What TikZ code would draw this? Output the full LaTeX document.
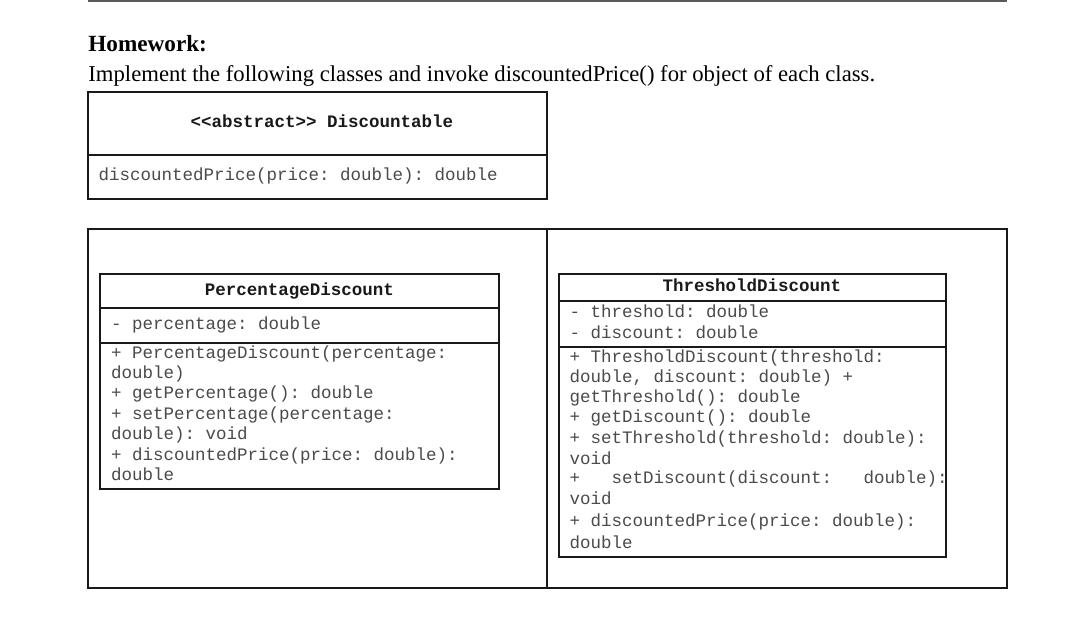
\documentclass[tikz,border=0pt]{standalone}
\usepackage{fontspec}
\setmainfont{Liberation Serif}
\setmonofont{Liberation Mono}
\definecolor{txt}{HTML}{4A4A4A}
\definecolor{rule}{HTML}{5A5A5A}
\tikzset{
  frame/.style={line width=1pt, draw=black!90},
  mono/.style={anchor=base west, inner sep=0pt, font=\fontsize{8.75pt}{10pt}\selectfont\ttfamily, text=txt},
  ctitle/.style={anchor=base, inner sep=0pt, font=\fontsize{8.75pt}{10pt}\selectfont\ttfamily\bfseries, text=black!90},
  heading/.style={anchor=base west, inner sep=0pt, font=\fontsize{11.6pt}{13pt}\selectfont\bfseries},
  body/.style={anchor=base west, inner sep=0pt, font=\fontsize{11.35pt}{13pt}\selectfont},
}
\begin{document}
\begin{tikzpicture}[x=0.5pt,y=-0.5pt]
\useasboundingbox (0,0) rectangle (1081,619);
% top rule
\coordinate (r1) at (88,1);
\coordinate (r2) at (1007,1);
\draw[rule, line width=1pt] (r1) -- (r2);

\node[heading] (hw) at (88,51.7) {Homework:};
\node[body] (intro) at (88,81.7) {Implement the following classes and invoke discountedPrice() for object of each class.};

% Discountable
\draw[frame] (87.5,92.5) rectangle (546.7,199);
\draw[frame] (87.5,155) -- (546.7,155);
\node[ctitle] (dt) at (322,127.7) {<{}<abstract>{}> Discountable};
\node[mono] (dm) at (98.3,181) {discountedPrice(price: double): double};

% outer frame
\draw[frame] (87.5,229) rectangle (1006.7,587.5);
\draw[frame] (546.7,229) -- (546.7,587.5);

% PercentageDiscount
\draw[frame] (100,274) rectangle (499,488.7);
\draw[frame] (100,308) -- (499,308);
\draw[frame] (100,342.7) -- (499,342.7);
\node[ctitle] (pt) at (299.5,296) {PercentageDiscount};
\node[mono] (pa) at (110.7,330) {- percentage: double};
\node[mono] (p1) at (110.7,359) {+ PercentageDiscount(percentage:};
\node[mono] (p2) at (110.7,379) {double)};
\node[mono] (p3) at (110.7,399) {+ getPercentage(): double};
\node[mono] (p4) at (110.7,419.5) {+ setPercentage(percentage:};
\node[mono] (p5) at (110.7,440) {double): void};
\node[mono] (p6) at (110.7,460.5) {+ discountedPrice(price: double):};
\node[mono] (p7) at (110.7,481) {double};

% ThresholdDiscount
\draw[frame] (559,274) rectangle (945.7,556.7);
\draw[frame] (559,301) -- (945.7,301);
\draw[frame] (559,346.7) -- (945.7,346.7);
\node[ctitle] (tt) at (752,291.7) {ThresholdDiscount};
\node[mono] (ta1) at (569.3,317.3) {- threshold: double};
\node[mono] (ta2) at (569.3,339) {- discount: double};
\node[mono] (t1) at (569.3,362.3) {+ ThresholdDiscount(threshold:};
\node[mono] (t2) at (569.3,382.7) {double, discount: double) +};
\node[mono] (t3) at (569.3,402.7) {getThreshold(): double};
\node[mono] (t4) at (569.3,422.3) {+ getDiscount(): double};
\node[mono] (t5) at (569.3,444) {+ setThreshold(threshold: double):};
\node[mono] (t6) at (569.3,464.3) {void};
\node[mono] (t7) at (569.3,484) {+\ \ \ setDiscount(discount:\ \ \ double):};
\node[mono] (t8) at (569.3,505) {void};
\node[mono] (t9) at (569.3,526.7) {+ discountedPrice(price: double):};
\node[mono] (t10) at (569.3,548.3) {double};
\end{tikzpicture}
\end{document}
